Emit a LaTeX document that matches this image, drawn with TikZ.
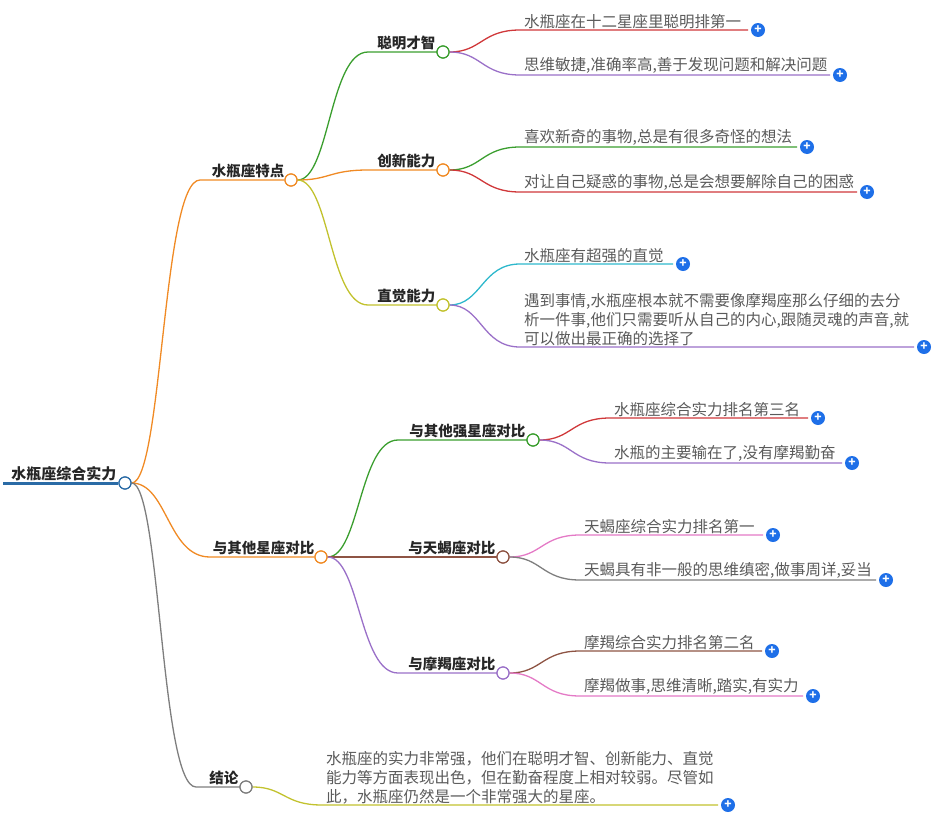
\documentclass[tikz,border=0pt]{standalone}
\usepackage{fontspec}
\setmainfont{Noto Sans CJK SC}
\definecolor{cor}{HTML}{F08A24}
\definecolor{cgr}{HTML}{3A9E2E}
\definecolor{cre}{HTML}{D0383A}
\definecolor{cpu}{HTML}{9A70C8}
\definecolor{col}{HTML}{C2C22E}
\definecolor{ccy}{HTML}{2EB8CC}
\definecolor{cbr}{HTML}{8E5444}
\definecolor{cpk}{HTML}{E47AC6}
\definecolor{cga}{HTML}{7E7E7E}
\definecolor{cbl}{HTML}{2A6BA6}
\definecolor{ctx}{HTML}{5A5A5A}
\definecolor{cplus}{HTML}{1E6FE8}
\tikzset{
 dot/.style={circle,draw=#1,fill=white,line width=1.2pt,minimum size=12pt,inner sep=0pt},
 lab/.style={anchor=south east,inner sep=1.5pt,font=\fontsize{14.5}{16}\selectfont\bfseries,text=black!85},
 leaf/.style={anchor=south west,inner sep=1pt,font=\fontsize{15.5}{19}\selectfont,text=ctx,align=left},
 plus/.style={circle,fill=cplus,minimum size=14pt,inner sep=0pt,text=white,font=\bfseries\fontsize{12}{12}\selectfont},
 ln/.style={line width=1.3pt,draw=#1}
}
\newcommand{\br}[6]{%
 \pgfmathsetmacro{\mx}{#2+(#4-#2)*0.5}%
 \draw[ln=#6] (#1) .. controls (\mx,#3) and (\mx,#5) .. (#4,#5)}
\begin{document}
\begin{tikzpicture}[x=1pt,y=-1pt]
\useasboundingbox (0,0) rectangle (948,822);
\coordinate (r0) at (3,483);
\node[dot=cbl] (root) at (125,483) {};
\draw[cbl,line width=3pt] (r0) -- (root.west);
\node[lab,font=\fontsize{15}{16}\selectfont\bfseries] at (118,483) {水瓶座综合实力};
\br{root}{125}{483}{200}{180}{cor} -- (284,180);
\br{root}{125}{483}{210}{557}{cor} -- (314,557);
\br{root}{125}{483}{196}{787}{cga} -- (240,787);
\node[dot=cor] (a) at (291,180) {}; \node[lab] at (286,180) {水瓶座特点};
\node[dot=cor] (b) at (321,557) {}; \node[lab] at (316,557) {与其他星座对比};
\node[dot=cga] (c) at (246,787) {}; \node[lab] at (240,787) {结论};
\node[dot=cbl] at (root) {};
\br{a}{291}{180}{368}{52}{cgr} -- (437,52);
\br{a}{291}{180}{368}{170}{cor} -- (437,170);
\br{a}{291}{180}{368}{305}{col} -- (437,305);
\node[dot=cor] at (a) {};
\node[dot=cgr] (a1) at (443,52) {}; \node[lab] at (437,52) {聪明才智};
\node[dot=cor] (a2) at (443,170) {}; \node[lab] at (437,170) {创新能力};
\node[dot=col] (a3) at (443,305) {}; \node[lab] at (437,305) {直觉能力};
\br{b}{321}{557}{398}{440}{cgr} -- (527,440);
\br{b}{321}{557}{398}{557}{cbr} -- (497,557);
\br{b}{321}{557}{398}{673}{cpu} -- (497,673);
\node[dot=cor] at (b) {};
\node[dot=cgr] (b1) at (533,440) {}; \node[lab] at (527,440) {与其他强星座对比};
\node[dot=cbr] (b2) at (503,557) {}; \node[lab] at (497,557) {与天蝎座对比};
\node[dot=cpu] (b3) at (503,673) {}; \node[lab] at (497,673) {与摩羯座对比};
\newcommand{\lf}[8]{%
 \br{#1}{#2}{#3}{#4}{#5}{#7} -- (#6,#5);
 \node[leaf] at (#4+3,#5) {#8};
 \node[plus] at (#6+10,#5) {+};}
\lf{a1}{443}{52}{520}{30}{748}{cre}{水瓶座在十二星座里聪明排第一}
\lf{a1}{443}{52}{520}{75}{830}{cpu}{思维敏捷,准确率高,善于发现问题和解决问题}
\lf{a2}{443}{170}{520}{147}{797}{cgr}{喜欢新奇的事物,总是有很多奇怪的想法}
\lf{a2}{443}{170}{520}{192}{857}{cre}{对让自己疑惑的事物,总是会想要解除自己的困惑}
\lf{a3}{443}{305}{520}{264}{673}{ccy}{水瓶座有超强的直觉}
\lf{a3}{443}{305}{520}{347}{914}{cpu}{遇到事情,水瓶座根本就不需要像摩羯座那么仔细的去分\\析一件事,他们只需要听从自己的内心,跟随灵魂的声音,就\\可以做出最正确的选择了}
\lf{b1}{533}{440}{610}{418}{808}{cre}{水瓶座综合实力排名第三名}
\lf{b1}{533}{440}{610}{463}{842}{cpu}{水瓶的主要输在了,没有摩羯勤奋}
\lf{b2}{503}{557}{580}{535}{763}{cpk}{天蝎座综合实力排名第一}
\lf{b2}{503}{557}{580}{580}{876}{cga}{天蝎具有非一般的思维缜密,做事周详,妥当}
\lf{b3}{503}{673}{580}{651}{762}{cbr}{摩羯综合实力排名第二名}
\lf{b3}{503}{673}{580}{696}{803}{cpk}{摩羯做事,思维清晰,踏实,有实力}
\lf{c}{246}{787}{322}{805}{718}{col}{水瓶座的实力非常强，他们在聪明才智、创新能力、直觉\\能力等方面表现出色，但在勤奋程度上相对较弱。尽管如\\此，水瓶座仍然是一个非常强大的星座。}
\node[dot=cgr] at (a1) {}; \node[dot=cor] at (a2) {}; \node[dot=col] at (a3) {};
\node[dot=cgr] at (b1) {}; \node[dot=cbr] at (b2) {}; \node[dot=cpu] at (b3) {};
\node[dot=cga] at (c) {};
\end{tikzpicture}
\end{document}
